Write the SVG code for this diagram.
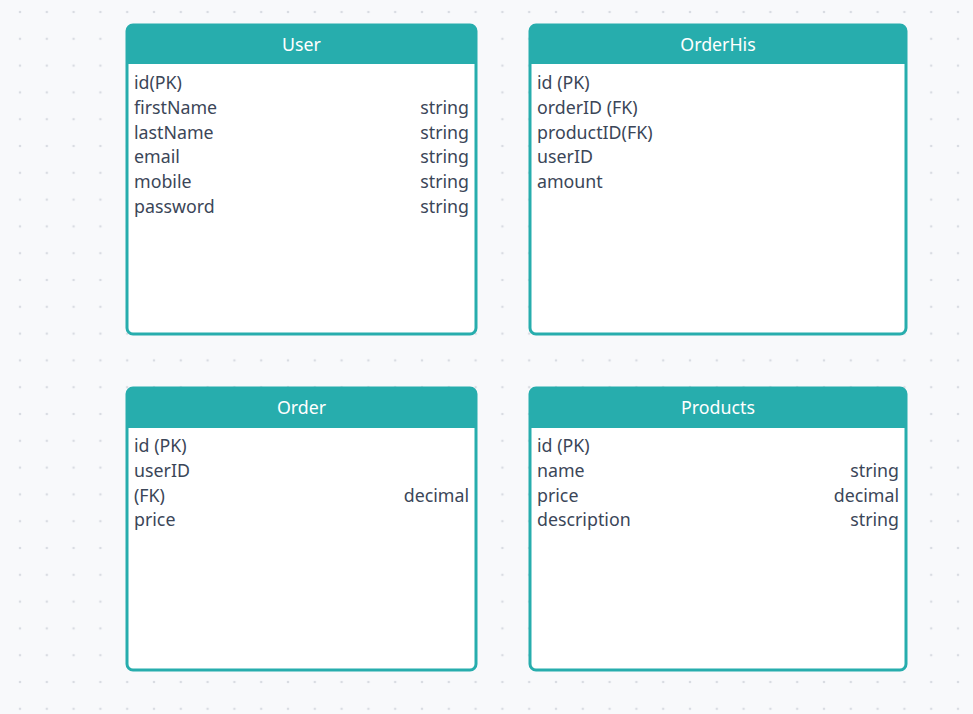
<svg xmlns="http://www.w3.org/2000/svg" width="973" height="714" viewBox="0 0 973 714">
<defs>
<pattern id="dots" x="20" y="12" width="26.8" height="26.8" patternUnits="userSpaceOnUse">
<circle cx="0" cy="0" r="1.3" fill="#d9dce2"/>
<circle cx="26.8" cy="0" r="1.3" fill="#d9dce2"/>
<circle cx="0" cy="26.8" r="1.3" fill="#d9dce2"/>
<circle cx="26.8" cy="26.8" r="1.3" fill="#d9dce2"/>
</pattern>
<style>
.box{fill:#ffffff;stroke:#27adad;stroke-width:3}
.hdr{fill:#27adad}
.title{font-family:"Noto Sans","Open Sans",sans-serif;font-size:17.8px;fill:#ffffff;text-anchor:middle}
.f{font-family:"Noto Sans","Open Sans",sans-serif;font-size:17.8px;fill:#3b4658}
.t{font-family:"Noto Sans","Open Sans",sans-serif;font-size:17.8px;fill:#3b4658;text-anchor:end}
</style>
</defs>
<rect width="973" height="714" fill="#f8f9fb"/>
<rect width="973" height="714" fill="url(#dots)"/>
<g id="connectors"></g>
<g id="User">
<rect class="box" x="127" y="25" width="349" height="309" rx="6"/>
<path class="hdr" d="M127,64 V31 a6,6 0 0 1 6,-6 H470 a6,6 0 0 1 6,6 V64 Z"/>
<text class="title" x="301.5" y="51">User</text>
<text class="f" x="134" y="89">id(PK)</text>
<text class="f" x="134" y="114">firstName</text>
<text class="t" x="469" y="114">string</text>
<text class="f" x="134" y="138.5">lastName</text>
<text class="t" x="469" y="138.5">string</text>
<text class="f" x="134" y="163">email</text>
<text class="t" x="469" y="163">string</text>
<text class="f" x="134" y="188">mobile</text>
<text class="t" x="469" y="188">string</text>
<text class="f" x="134" y="212.5">password</text>
<text class="t" x="469" y="212.5">string</text>
</g>
<g id="OrderHis">
<rect class="box" x="530" y="25" width="376" height="309" rx="6"/>
<path class="hdr" d="M530,64 V31 a6,6 0 0 1 6,-6 H900 a6,6 0 0 1 6,6 V64 Z"/>
<text class="title" x="718" y="51">OrderHis</text>
<text class="f" x="537" y="89">id (PK)</text>
<text class="f" x="537" y="114">orderID (FK)</text>
<text class="f" x="537" y="138.5">productID(FK)</text>
<text class="f" x="537" y="163">userID</text>
<text class="f" x="537" y="188">amount</text>
</g>
<g id="Order">
<rect class="box" x="127" y="388" width="349" height="282" rx="6"/>
<path class="hdr" d="M127,428 V394 a6,6 0 0 1 6,-6 H470 a6,6 0 0 1 6,6 V428 Z"/>
<text class="title" x="301.5" y="414">Order</text>
<text class="f" x="134" y="452">id (PK)</text>
<text class="f" x="134" y="477">userID</text>
<text class="f" x="134" y="501.5">(FK)</text>
<text class="t" x="469" y="501.5">decimal</text>
<text class="f" x="134" y="526">price</text>
</g>
<g id="Products">
<rect class="box" x="530" y="388" width="376" height="282" rx="6"/>
<path class="hdr" d="M530,428 V394 a6,6 0 0 1 6,-6 H900 a6,6 0 0 1 6,6 V428 Z"/>
<text class="title" x="718" y="414">Products</text>
<text class="f" x="537" y="452">id (PK)</text>
<text class="f" x="537" y="477">name</text>
<text class="t" x="899" y="477">string</text>
<text class="f" x="537" y="501.5">price</text>
<text class="t" x="899" y="501.5">decimal</text>
<text class="f" x="537" y="526">description</text>
<text class="t" x="899" y="526">string</text>
</g>
</svg>
